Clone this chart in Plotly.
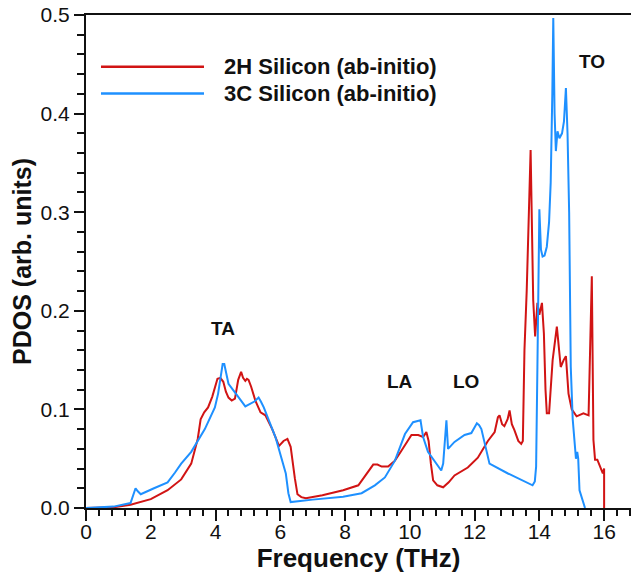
import plotly.graph_objects as go

# ---- data ----
freq_2h = [0, 0.85, 1.375, 2.0, 2.52, 2.94, 3.25, 3.45, 3.54, 3.65, 3.77, 3.9, 4.06, 4.15, 4.24, 4.32,
           4.40, 4.50, 4.60, 4.70, 4.79, 4.85, 4.92, 4.97, 5.02, 5.10, 5.23, 5.39, 5.54, 5.75, 5.96,
           6.10, 6.22, 6.32, 6.45, 6.53, 6.65, 6.79, 7.3, 7.94, 8.41, 8.62, 8.87, 9.0, 9.13, 9.33,
           9.54, 9.74, 9.9, 10.05, 10.26, 10.41, 10.51, 10.58, 10.65, 10.72, 10.85, 11.03, 11.2,
           11.38, 11.79, 12.10, 12.41, 12.62, 12.72, 12.77, 12.85, 12.92, 13.02, 13.08, 13.15, 13.23,
           13.35, 13.44, 13.49, 13.54, 13.61, 13.73, 13.81, 13.87, 13.94, 14.0, 14.08, 14.14, 14.19,
           14.23, 14.30, 14.41, 14.54, 14.60, 14.66, 14.75, 14.82, 14.90, 15.0, 15.15, 15.36, 15.52,
           15.62, 15.67, 15.72, 15.79, 15.96, 16.0, 16.0]
pdos_2h = [0, 0.0007, 0.0034, 0.009, 0.018, 0.029, 0.045, 0.070, 0.090, 0.097, 0.102, 0.113, 0.131,
           0.132, 0.128, 0.118, 0.112, 0.109, 0.111, 0.130, 0.138, 0.132, 0.129, 0.131, 0.130, 0.123,
           0.109, 0.097, 0.094, 0.080, 0.063, 0.068, 0.070, 0.062, 0.030, 0.014, 0.011, 0.0098, 0.013,
           0.018, 0.023, 0.033, 0.044, 0.044, 0.042, 0.042, 0.048, 0.058, 0.067, 0.074, 0.074, 0.072,
           0.077, 0.068, 0.045, 0.028, 0.023, 0.021, 0.026, 0.033, 0.041, 0.051, 0.068, 0.077, 0.092,
           0.094, 0.085, 0.083, 0.090, 0.099, 0.085, 0.079, 0.068, 0.065, 0.068, 0.160, 0.221, 0.363,
           0.211, 0.174, 0.208, 0.196, 0.208, 0.177, 0.12, 0.096, 0.096, 0.150, 0.184, 0.165, 0.143,
           0.150, 0.154, 0.116, 0.100, 0.093, 0.096, 0.094, 0.235, 0.069, 0.049, 0.049, 0.035, 0.040, 0]

freq_3c = [0, 0.85, 1.375, 1.45, 1.53, 1.60, 1.69, 2.1, 2.52, 2.75, 2.94, 3.25, 3.67, 3.98, 4.08,
           4.14, 4.22, 4.27, 4.33, 4.40, 4.65, 4.92, 5.20, 5.33, 5.40, 5.49, 5.85, 6.17, 6.25, 6.32,
           7.0, 7.94, 8.51, 8.92, 9.23, 9.54, 9.85, 10.10, 10.33, 10.41, 10.56, 10.97, 11.03, 11.13,
           11.18, 11.38, 11.69, 11.90, 12.07, 12.14, 12.21, 12.46, 13.03, 13.79, 13.86, 13.90, 13.94,
           14.0, 14.05, 14.10, 14.16, 14.23, 14.30, 14.35, 14.40, 14.43, 14.47, 14.51, 14.56, 14.62,
           14.70, 14.76, 14.82, 14.87, 14.92, 14.97, 15.03, 15.10, 15.13, 15.17, 15.20, 15.24, 15.41]
pdos_3c = [0, 0.0014, 0.005, 0.012, 0.020, 0.017, 0.014, 0.020, 0.026, 0.036, 0.045, 0.057, 0.080,
           0.102, 0.116, 0.129, 0.146, 0.146, 0.135, 0.126, 0.115, 0.103, 0.108, 0.112, 0.108, 0.102,
           0.072, 0.035, 0.015, 0.006, 0.0085, 0.0115, 0.015, 0.023, 0.031, 0.048, 0.075, 0.087, 0.089,
           0.072, 0.057, 0.038, 0.045, 0.089, 0.060, 0.067, 0.074, 0.076, 0.086, 0.084, 0.080, 0.045,
           0.035, 0.023, 0.027, 0.042, 0.143, 0.303, 0.262, 0.255, 0.256, 0.265, 0.290, 0.330, 0.420,
           0.497, 0.400, 0.362, 0.382, 0.375, 0.380, 0.392, 0.426, 0.380, 0.300, 0.143, 0.090, 0.062,
           0.050, 0.057, 0.050, 0.018, 0]

series_names = ["2H Silicon (ab-initio)", "3C Silicon (ab-initio)"]
mode_labels = ["TA", "LA", "LO", "TO"]
mode_x = [4.23, 9.70, 11.74, 15.63]
mode_y = [0.182, 0.128, 0.128, 0.453]

RED = "#d11414"
BLUE = "#1e90ff"
FONT = "Liberation Sans, Arial, sans-serif"

fig = go.Figure()
fig.add_trace(go.Scatter(x=freq_2h, y=pdos_2h, mode="lines", name=series_names[0],
                         line=dict(color=RED, width=2), showlegend=False))
fig.add_trace(go.Scatter(x=freq_3c, y=pdos_3c, mode="lines", name=series_names[1],
                         line=dict(color=BLUE, width=2), showlegend=False))

# manual legend
for i, (name, col) in enumerate(zip(series_names, [RED, BLUE])):
    yp = 0.895 - i * 0.054
    fig.add_shape(type="line", xref="paper", yref="paper", x0=0.0275, x1=0.2165, y0=yp, y1=yp,
                  line=dict(color=col, width=2.5))
    fig.add_annotation(xref="paper", yref="paper", x=0.2495, y=yp, text="<b>%s</b>" % name,
                       showarrow=False, xanchor="left", yanchor="middle",
                       font=dict(family=FONT, size=22, color="#111"))

for lab, xx, yy in zip(mode_labels, mode_x, mode_y):
    fig.add_annotation(x=xx, y=yy, text="<b>%s</b>" % lab, showarrow=False,
                       xanchor="center", yanchor="middle",
                       font=dict(family=FONT, size=19, color="#111"))

fig.update_layout(
    width=631, height=579,
    margin=dict(l=86, r=0, t=15, b=71),
    paper_bgcolor="white", plot_bgcolor="white",
    font=dict(family=FONT, color="#111"),
)
fig.update_xaxes(
    range=[0, 16.83], showline=True, linewidth=2, linecolor="#111", mirror=True,
    showgrid=False, zeroline=False,
    tickmode="array", tickvals=[0, 2, 4, 6, 8, 10, 12, 14, 16],
    ticks="outside", ticklen=11, tickwidth=2, tickcolor="#111",
    minor=dict(dtick=0.4, tick0=0, ticks="outside", ticklen=6, tickwidth=2, tickcolor="#111"),
    tickfont=dict(family=FONT, size=21, color="#111"),
    ticklabelstandoff=-7,
    title=dict(text="<b>Frequency (THz)</b>", font=dict(family=FONT, size=26, color="#111"), standoff=2),
)
fig.update_yaxes(
    range=[0, 0.5], showline=True, linewidth=2, linecolor="#111",
    showgrid=False, zeroline=False,
    dtick=0.1, tick0=0, tickformat=".1f",
    ticks="outside", ticklen=10, tickwidth=2, tickcolor="#111",
    minor=dict(dtick=0.02, tick0=0, ticks="outside", ticklen=7, tickwidth=2, tickcolor="#111"),
    tickfont=dict(family=FONT, size=21, color="#111"),
    title=dict(text="<b>PDOS (arb. units)</b>", font=dict(family=FONT, size=25, color="#111"), standoff=2),
)

fig.write_html("out.html")
